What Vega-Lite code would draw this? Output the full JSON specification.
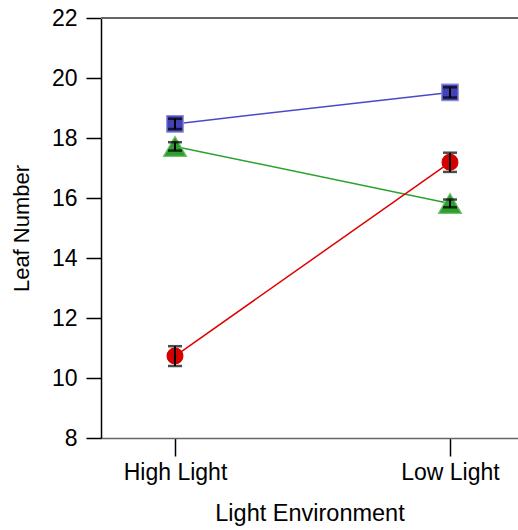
{
  "$schema": "https://vega.github.io/schema/vega-lite/v6.json",
  "width": 417,
  "height": 420,
  "autosize": {"type": "none"},
  "padding": {"left": 101, "top": 18, "right": 0, "bottom": 92},
  "config": {
    "view": {"stroke": null},
    "font": "Liberation Sans",
    "axis": {
      "labelFont": "Liberation Sans",
      "titleFont": "Liberation Sans",
      "labelFontSize": 23,
      "titleFontSize": 22,
      "labelColor": "#000",
      "titleColor": "#000",
      "titleFontWeight": "normal",
      "tickColor": "#000",
      "tickWidth": 1.5,
      "domainColor": "#000",
      "domainWidth": 1.5,
      "grid": false
    }
  },
  "data": {
    "values": [
      {"group": "A", "light": "High Light", "mean": 18.47, "lower": 18.30, "upper": 18.64},
      {"group": "A", "light": "Low Light", "mean": 19.52, "lower": 19.35, "upper": 19.69},
      {"group": "B", "light": "High Light", "mean": 17.72, "lower": 17.58, "upper": 17.86},
      {"group": "B", "light": "Low Light", "mean": 15.82, "lower": 15.69, "upper": 15.95},
      {"group": "C", "light": "High Light", "mean": 10.73, "lower": 10.40, "upper": 11.06},
      {"group": "C", "light": "Low Light", "mean": 17.19, "lower": 16.87, "upper": 17.51}
    ]
  },
  "encoding": {
    "x": {
      "field": "light",
      "type": "nominal",
      "scale": {"type": "point", "domain": ["High Light", "Low Light"], "padding": 0.2582, "align": 0.521},
      "axis": {
        "title": "Light Environment",
        "titleFontSize": 23.5,
        "labelAngle": 0,
        "tickSize": 18,
        "labelPadding": 5,
        "titlePadding": 17,
        "domainColor": "#666"
      }
    }
  },
  "layer": [
    {
      "mark": {"type": "rule", "color": "#666", "strokeWidth": 1.5},
      "encoding": {"x": null, "y": {"datum": 22, "type": "quantitative", "scale": {"domain": [8, 22]}}}
    },
    {
      "mark": {"type": "line", "strokeWidth": 1.5},
      "encoding": {
        "y": {
          "field": "mean",
          "type": "quantitative",
          "scale": {"domain": [8, 22], "nice": false, "zero": false},
          "axis": {
            "title": "Leaf Number",
            "values": [8, 10, 12, 14, 16, 18, 20, 22],
            "tickSize": 15,
            "labelPadding": 9,
            "titlePadding": 18
          }
        },
        "color": {
          "field": "group",
          "type": "nominal",
          "scale": {"domain": ["A", "B", "C"], "range": ["#4a4ac6", "#2ca02c", "#e00000"]},
          "legend": null
        }
      }
    },
    {
      "mark": {"type": "point", "filled": true, "opacity": 1, "strokeWidth": 1.2},
      "encoding": {
        "y": {"field": "mean", "type": "quantitative"},
        "fill": {
          "field": "group",
          "type": "nominal",
          "scale": {"domain": ["A", "B", "C"], "range": ["#4343b5", "#2e9e2e", "#d40000"]},
          "legend": null
        },
        "stroke": {
          "field": "group",
          "type": "nominal",
          "scale": {"domain": ["A", "B", "C"], "range": ["#8c8cd8", "#70c070", "#d40000"]},
          "legend": null
        },
        "shape": {
          "field": "group",
          "type": "nominal",
          "scale": {"domain": ["A", "B", "C"], "range": ["square", "triangle-up", "circle"]},
          "legend": null
        },
        "size": {
          "field": "group",
          "type": "nominal",
          "scale": {"type": "ordinal", "domain": ["A", "B", "C"], "range": [270, 530, 250]},
          "legend": null
        }
      }
    },
    {
      "mark": {"type": "rule", "color": "#000", "strokeWidth": 2},
      "encoding": {
        "y": {"field": "lower", "type": "quantitative"},
        "y2": {"field": "upper"}
      }
    },
    {
      "mark": {"type": "tick", "color": "#000", "orient": "horizontal", "size": 14, "thickness": 2.5},
      "encoding": {"y": {"field": "lower", "type": "quantitative"}}
    },
    {
      "mark": {"type": "tick", "color": "#000", "orient": "horizontal", "size": 14, "thickness": 2.5},
      "encoding": {"y": {"field": "upper", "type": "quantitative"}}
    }
  ]
}
